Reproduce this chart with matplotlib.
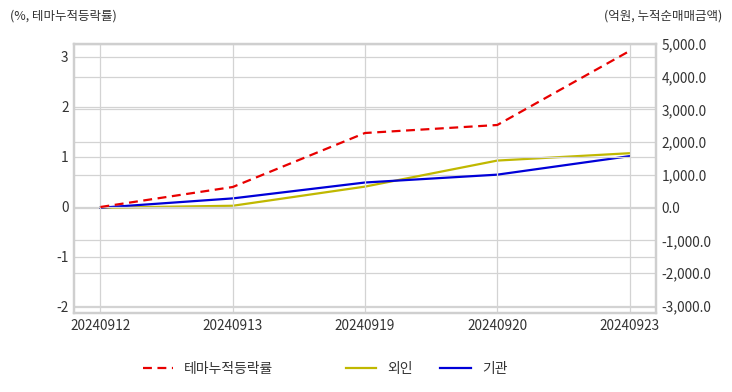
import matplotlib.pyplot as plt
from matplotlib.ticker import FuncFormatter, MultipleLocator

plt.rcParams['font.family'] = ['Noto Sans CJK KR', 'DejaVu Sans']
plt.rcParams['axes.unicode_minus'] = False

dates = ['20240912', '20240913', '20240919', '20240920', '20240923']
theme_rate = [0.0, 0.40, 1.48, 1.64, 3.12]        # %, left axis
foreign = [0.0, 60.0, 645.0, 1440.0, 1665.0]       # 억원, right axis
institution = [0.0, 285.0, 770.0, 1010.0, 1575.0]  # 억원, right axis

txt = '#333333'
grid_c = '#d3d3d3'

fig = plt.figure(figsize=(7.32, 3.92), dpi=100)
ax = fig.add_axes([74 / 732, 1 - 313 / 392, 582 / 732, 269 / 392])
ax2 = ax.twinx()

x = range(len(dates))
ax2.plot(x, foreign, color='#c0b800', lw=1.6, label='외인')
ax2.plot(x, institution, color='#0000d8', lw=1.6, label='기관')
l1, = ax.plot(x, theme_rate, color='#e80000', lw=1.6, ls=(0, (4, 2.5)), label='테마누적등락률')
ax.set_zorder(ax2.get_zorder() + 1)
ax.patch.set_visible(False)

ax.set_xlim(-0.2, 4.2)
ax.set_ylim(-2.12, 3.26)
ax2.set_ylim(-3215, 5000)
ax.set_xticks(list(x))
ax.set_xticklabels(dates)
ax.yaxis.set_major_locator(MultipleLocator(1))
ax2.yaxis.set_major_locator(MultipleLocator(1000))
ax2.yaxis.set_major_formatter(FuncFormatter(lambda v, p: f'{v:,.1f}'))

for a in (ax, ax2):
    a.tick_params(length=0, labelsize=9.8, colors=txt, pad=4)
    a.grid(True, color=grid_c, lw=0.9)
    a.set_axisbelow(True)
    for s in a.spines.values():
        s.set_color('#cfcfcf')
        s.set_linewidth(1.6)
ax2.grid(axis='x', visible=False)
ax.grid(axis='x', color=grid_c, lw=0.9)

fig.text(10 / 732, 1 - 16 / 392, '(%, 테마누적등락률)', fontsize=9, color=txt, va='center', ha='left')
fig.text(722 / 732, 1 - 16 / 392, '(억원, 누적순매매금액)', fontsize=9, color=txt, va='center', ha='right')

h2, lab2 = ax2.get_legend_handles_labels()
fig.legend([l1], [l1.get_label()], loc='center left', bbox_to_anchor=(130 / 732, 1 - 369 / 392),
           frameon=False, fontsize=10, labelcolor=txt, handlelength=2.2)
fig.legend(h2, lab2, loc='center left', bbox_to_anchor=(333 / 732, 1 - 369 / 392), ncol=2,
           frameon=False, fontsize=10, labelcolor=txt, handlelength=2.2, columnspacing=2.0)

fig.savefig('out.png', dpi=100)
